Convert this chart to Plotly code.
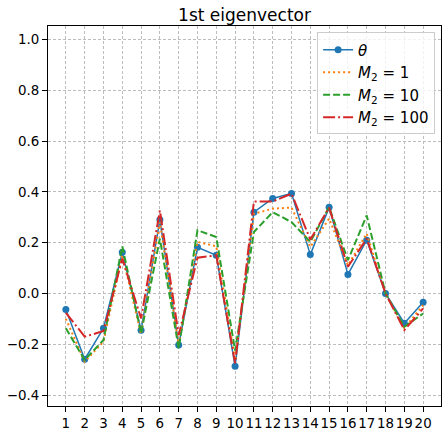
import plotly.graph_objects as go

idx = list(range(1, 21))
theta = [-0.063, -0.259, -0.137, 0.162, -0.145, 0.290, -0.203, 0.182, 0.150, -0.287,
         0.320, 0.374, 0.394, 0.153, 0.339, 0.075, 0.210, 0.000, -0.117, -0.035]
m2_1 = [-0.100, -0.268, -0.190, 0.150, -0.160, 0.280, -0.200, 0.203, 0.186, -0.262,
        0.314, 0.334, 0.338, 0.183, 0.295, 0.111, 0.236, 0.000, -0.137, -0.046]
m2_10 = [-0.137, -0.262, -0.183, 0.186, -0.157, 0.216, -0.216, 0.249, 0.222, -0.225,
         0.242, 0.320, 0.281, 0.203, 0.340, 0.131, 0.307, 0.000, -0.131, -0.079]
m2_100 = [-0.076, -0.170, -0.148, 0.137, -0.098, 0.327, -0.164, 0.141, 0.150, -0.275,
          0.362, 0.362, 0.393, 0.212, 0.338, 0.105, 0.216, 0.000, -0.144, -0.059]

y_ticks = [-0.4, -0.2, 0.0, 0.2, 0.4, 0.6, 0.8, 1.0]
y_tick_text = ["\u22120.4", "\u22120.2", "0.0", "0.2", "0.4", "0.6", "0.8", "1.0"]

fig = go.Figure()
fig.add_trace(go.Scatter(x=idx, y=theta, mode="lines+markers", name="<i>θ</i>",
                         line=dict(color="#1f77b4", width=1.5),
                         marker=dict(color="#1f77b4", size=7)))
fig.add_trace(go.Scatter(x=idx, y=m2_1, mode="lines", name="<i>M</i><sub>2</sub> = 1",
                         line=dict(color="#ff7f0e", width=2, dash="2px,3px")))
fig.add_trace(go.Scatter(x=idx, y=m2_10, mode="lines", name="<i>M</i><sub>2</sub> = 10",
                         line=dict(color="#2ca02c", width=2, dash="7px,3px")))
fig.add_trace(go.Scatter(x=idx, y=m2_100, mode="lines", name="<i>M</i><sub>2</sub> = 100",
                         line=dict(color="#d62728", width=2, dash="12px,3px,2px,3px")))

axis_common = dict(showline=True, linecolor="black", linewidth=1, mirror=True,
                   ticks="outside", ticklen=5, tickcolor="black",
                   showgrid=True, gridcolor="#bdbdbd", griddash="3px,2px", gridwidth=0.8,
                   zeroline=False, tickfont=dict(size=13.4, color="black"))

fig.update_layout(
    width=445, height=435,
    margin=dict(l=48, r=4, t=26, b=29),
    paper_bgcolor="white", plot_bgcolor="white",
    font=dict(family="DejaVu Sans", color="black"),
    title=dict(text="1st eigenvector", x=0.5, xref="paper", xanchor="center",
               yref="container", y=0.966, yanchor="middle",
               font=dict(size=17, color="black")),
    xaxis=dict(range=[0.05, 20.95], tickmode="array", tickvals=idx, tickangle=0,
               ticktext=[str(i) for i in idx], **axis_common),
    yaxis=dict(range=[-0.443, 1.053], tickmode="array", tickvals=y_ticks,
               ticktext=y_tick_text, **axis_common),
    legend=dict(x=0.985, y=0.983, xanchor="right", yanchor="top",
                bgcolor="rgba(255,255,255,0.8)", bordercolor="#cccccc", borderwidth=1,
                font=dict(size=15), tracegroupgap=0, itemwidth=30),
    showlegend=True,
)

fig.write_html("out.html", config={"displayModeBar": False},
               post_script="document.body.style.margin='0px';document.body.style.overflow='hidden';")
